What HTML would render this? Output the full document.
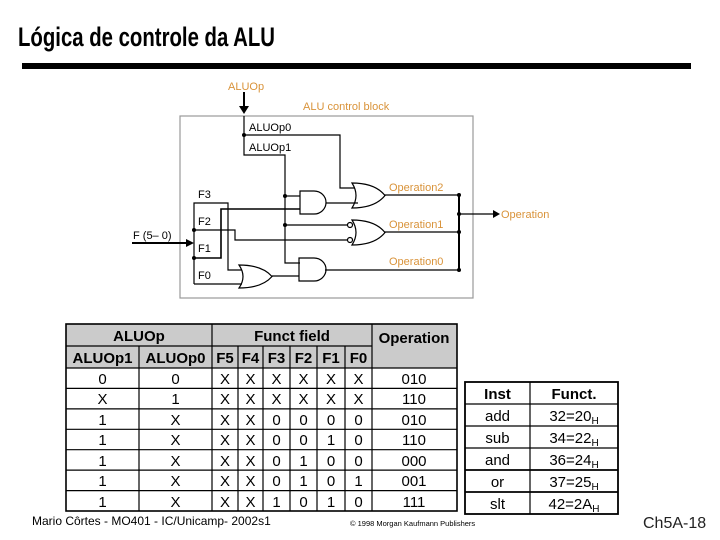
<!DOCTYPE html>
<html><head><meta charset="utf-8"><style>
html,body{margin:0;padding:0;background:#fff;}
svg{display:block;font-family:"Liberation Sans",Arial,sans-serif;}
</style></head><body>
<svg width="720" height="540" viewBox="0 0 720 540" xmlns="http://www.w3.org/2000/svg">
<text x="18" y="46" font-size="27" font-weight="bold" textLength="257" lengthAdjust="spacingAndGlyphs">Lógica de controle da ALU</text>
<rect x="22" y="63" width="669" height="6" fill="#000"/>

<g fill="none" stroke="#000" stroke-width="1.2">
<rect x="180" y="116" width="293" height="182" stroke="#999"/>
<line x1="244" y1="92" x2="244" y2="110" stroke-width="2"/>
<polyline points="244,116 244,155 285,155 285,263 300,263"/>
<polyline points="244,135 340,135 340,188 355,188"/>
<line x1="285" y1="196" x2="300" y2="196"/>
<line x1="285" y1="225" x2="348" y2="225"/>
<line x1="326" y1="203" x2="358" y2="203"/>
<path d="M300,191 H314 A12,11.5 0 0 1 314,214 H300 Z"/>
<path d="M352,183 Q360,195.5 352,208 Q375,208 385,195.5 Q375,183 352,183 Z"/>
<path d="M352,220 Q360,232.5 352,245 Q375,245 385,232.5 Q375,220 352,220 Z"/>
<circle cx="350" cy="225" r="2.5" fill="#fff"/>
<circle cx="350" cy="240" r="2.5" fill="#fff"/>
<path d="M299,258 H314 A12,11.5 0 0 1 314,281 H299 Z"/>
<path d="M239,265 Q247,276.5 239,288 Q262,288 272,276.5 Q262,265 239,265 Z"/>
<line x1="272" y1="276" x2="299" y2="276"/>
<line x1="384" y1="195" x2="459" y2="195"/>
<line x1="384" y1="232" x2="459" y2="232"/>
<line x1="325" y1="270" x2="459" y2="270"/>
<line x1="459" y1="195" x2="459" y2="270" stroke-width="2"/>
<line x1="459" y1="214" x2="493" y2="214"/>
<line x1="132" y1="243" x2="188" y2="243" stroke-width="2"/>
<polyline points="194,284 194,203 228,203 228,270 242,270"/>
<polyline points="194,230 235,230 235,240 348,240"/>
<polyline points="194,258 221,258 221,209 300,209" stroke-width="1.6"/>
<line x1="194" y1="284" x2="242" y2="284"/>
</g>
<g fill="#000">
<polygon points="239,106 249,106 244,114"/>
<polygon points="186,239 186,247 194,243"/>
<polygon points="493,210 493,218 500,214"/>
<circle cx="244" cy="135" r="2"/><circle cx="285" cy="196" r="2"/><circle cx="285" cy="225" r="2"/>
<circle cx="194" cy="230" r="2"/><circle cx="194" cy="258" r="2"/>
<circle cx="459" cy="195" r="2"/><circle cx="459" cy="214" r="2"/><circle cx="459" cy="232" r="2"/><circle cx="459" cy="270" r="2"/>
</g>
<g font-size="11" fill="#000">
<text x="249" y="131">ALUOp0</text><text x="249" y="151">ALUOp1</text>
<text x="198" y="198">F3</text><text x="198" y="225">F2</text><text x="198" y="252">F1</text><text x="198" y="279">F0</text>
<text x="133" y="239">F (5– 0)</text>
</g>
<g font-size="11" fill="#d9933a">
<text x="228" y="90">ALUOp</text>
<text x="303" y="110">ALU control block</text>
<text x="389" y="191">Operation2</text>
<text x="389" y="228">Operation1</text>
<text x="389" y="265">Operation0</text>
<text x="501" y="218">Operation</text>
</g>

<rect x="66" y="324" width="391" height="44" fill="#cbcbcb"/>
<g stroke="#000" stroke-width="1.2" fill="none">
<rect x="66" y="324" width="391" height="187" stroke-width="1.6"/>
<line x1="66" y1="346" x2="372" y2="346"/>
<line x1="66" y1="368" x2="457" y2="368"/>
<line x1="66" y1="388.4" x2="457" y2="388.4"/>
<line x1="66" y1="408.9" x2="457" y2="408.9"/>
<line x1="66" y1="429.3" x2="457" y2="429.3"/>
<line x1="66" y1="449.7" x2="457" y2="449.7"/>
<line x1="66" y1="470.1" x2="457" y2="470.1"/>
<line x1="66" y1="490.6" x2="457" y2="490.6"/>
<line x1="139" y1="346" x2="139" y2="511"/>
<line x1="212" y1="324" x2="212" y2="511"/>
<line x1="238" y1="346" x2="238" y2="511"/>
<line x1="263" y1="346" x2="263" y2="511"/>
<line x1="290" y1="346" x2="290" y2="511"/>
<line x1="317" y1="346" x2="317" y2="511"/>
<line x1="345" y1="346" x2="345" y2="511"/>
<line x1="372" y1="324" x2="372" y2="511"/>
</g>
<g font-size="15" font-weight="bold" text-anchor="middle">
<text x="139" y="341">ALUOp</text><text x="292" y="341">Funct field</text><text x="414" y="343">Operation</text>
<text x="102.5" y="363">ALUOp1</text><text x="175.5" y="363">ALUOp0</text>
<text x="225" y="363">F5</text><text x="250.5" y="363">F4</text><text x="276.5" y="363">F3</text><text x="303.5" y="363">F2</text><text x="331" y="363">F1</text><text x="358.5" y="363">F0</text>
</g>
<g font-size="15" text-anchor="middle">
<text y="384"><tspan x="102.5">0</tspan><tspan x="175.5">0</tspan><tspan x="225">X</tspan><tspan x="250.5">X</tspan><tspan x="276.5">X</tspan><tspan x="303.5">X</tspan><tspan x="331">X</tspan><tspan x="358.5">X</tspan><tspan x="414">010</tspan></text>
<text y="404"><tspan x="102.5">X</tspan><tspan x="175.5">1</tspan><tspan x="225">X</tspan><tspan x="250.5">X</tspan><tspan x="276.5">X</tspan><tspan x="303.5">X</tspan><tspan x="331">X</tspan><tspan x="358.5">X</tspan><tspan x="414">110</tspan></text>
<text y="425"><tspan x="102.5">1</tspan><tspan x="175.5">X</tspan><tspan x="225">X</tspan><tspan x="250.5">X</tspan><tspan x="276.5">0</tspan><tspan x="303.5">0</tspan><tspan x="331">0</tspan><tspan x="358.5">0</tspan><tspan x="414">010</tspan></text>
<text y="445"><tspan x="102.5">1</tspan><tspan x="175.5">X</tspan><tspan x="225">X</tspan><tspan x="250.5">X</tspan><tspan x="276.5">0</tspan><tspan x="303.5">0</tspan><tspan x="331">1</tspan><tspan x="358.5">0</tspan><tspan x="414">110</tspan></text>
<text y="466"><tspan x="102.5">1</tspan><tspan x="175.5">X</tspan><tspan x="225">X</tspan><tspan x="250.5">X</tspan><tspan x="276.5">0</tspan><tspan x="303.5">1</tspan><tspan x="331">0</tspan><tspan x="358.5">0</tspan><tspan x="414">000</tspan></text>
<text y="486"><tspan x="102.5">1</tspan><tspan x="175.5">X</tspan><tspan x="225">X</tspan><tspan x="250.5">X</tspan><tspan x="276.5">0</tspan><tspan x="303.5">1</tspan><tspan x="331">0</tspan><tspan x="358.5">1</tspan><tspan x="414">001</tspan></text>
<text y="507"><tspan x="102.5">1</tspan><tspan x="175.5">X</tspan><tspan x="225">X</tspan><tspan x="250.5">X</tspan><tspan x="276.5">1</tspan><tspan x="303.5">0</tspan><tspan x="331">1</tspan><tspan x="358.5">0</tspan><tspan x="414">111</tspan></text>
</g>

<g stroke="#000" stroke-width="1.2" fill="none">
<rect x="465" y="382" width="153" height="132" stroke-width="1.8"/>
<line x1="465" y1="404" x2="618" y2="404"/>
<line x1="465" y1="426" x2="618" y2="426"/>
<line x1="465" y1="448" x2="618" y2="448"/>
<line x1="465" y1="470" x2="618" y2="470" stroke-width="1.8"/>
<line x1="465" y1="492" x2="618" y2="492" stroke-width="1.8"/>
<line x1="530" y1="382" x2="530" y2="514"/>
</g>
<g font-size="15" text-anchor="middle">
<text x="497.5" y="399" font-weight="bold">Inst</text><text x="574" y="399" font-weight="bold">Funct.</text>
<text x="497.5" y="421">add</text><text x="574" y="421">32=20<tspan font-size="10" dy="3">H</tspan></text>
<text x="497.5" y="443">sub</text><text x="574" y="443">34=22<tspan font-size="10" dy="3">H</tspan></text>
<text x="497.5" y="465">and</text><text x="574" y="465">36=24<tspan font-size="10" dy="3">H</tspan></text>
<text x="497.5" y="487">or</text><text x="574" y="487">37=25<tspan font-size="10" dy="3">H</tspan></text>
<text x="497.5" y="509">slt</text><text x="574" y="509">42=2A<tspan font-size="10" dy="3">H</tspan></text>
</g>

<text x="32" y="525" font-size="12">Mario Côrtes - MO401 - IC/Unicamp- 2002s1</text>
<text x="350" y="526" font-size="7.5">© 1998 Morgan Kaufmann Publishers</text>
<text x="643" y="528" font-size="16" fill="#222">Ch5A-18</text>
</svg>
</body></html>
